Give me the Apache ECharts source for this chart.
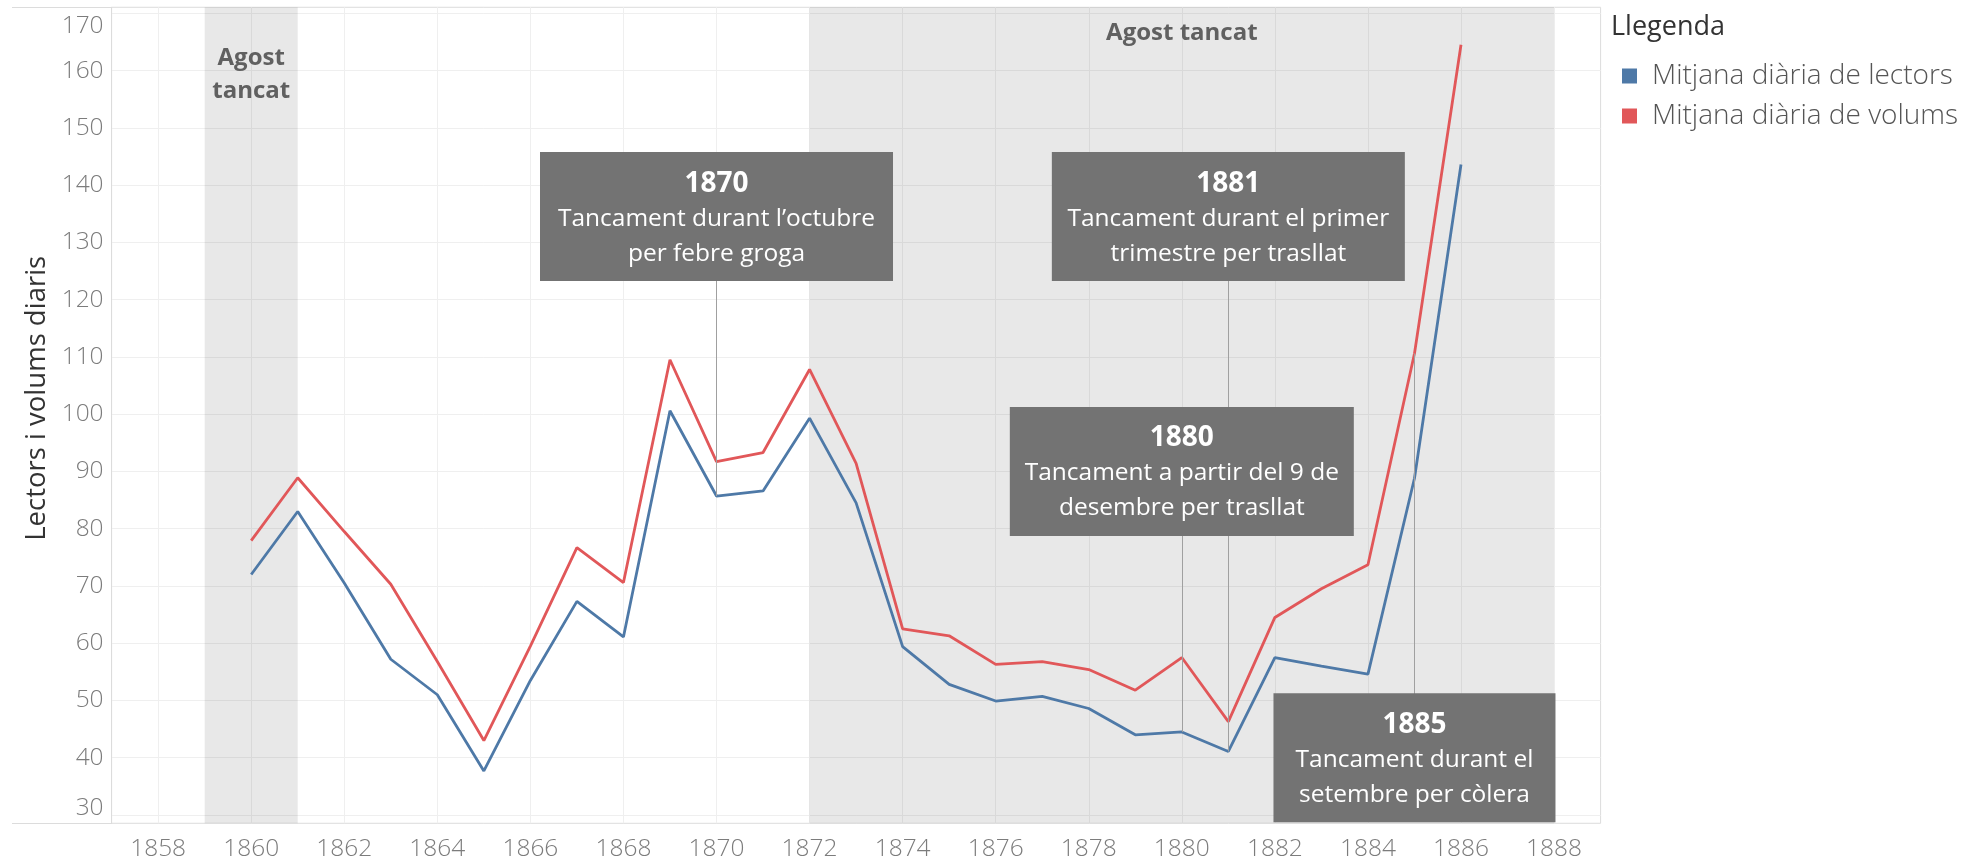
<!DOCTYPE html>
<html><head><meta charset="utf-8">
<script src="https://cdn.jsdelivr.net/npm/echarts@6/dist/echarts.min.js"></script>
<style>html,body{margin:0;padding:0;background:#fff}#c{width:1988px;height:862px}</style>
</head><body><div id="c"></div>
<script>
// ---- data ----
const years   = [1860,1861,1862,1863,1864,1865,1866,1867,1868,1869,1870,1871,1872,1873,1874,1875,1876,1877,1878,1879,1880,1881,1882,1883,1884,1885,1886];
const lectors = [72.0,83.0,70.5,57.2,51.0,37.7,53.5,67.3,61.1,100.6,85.7,86.6,99.3,84.5,59.4,52.8,49.9,50.7,48.6,44.0,44.5,41.1,57.5,56.0,54.6,88.8,143.6];
const volums  = [77.9,88.9,79.5,70.3,56.8,43.0,59.5,76.7,70.6,109.5,91.7,93.3,107.8,91.4,62.5,61.3,56.3,56.8,55.4,51.8,57.5,46.3,64.5,69.5,73.7,110.6,164.5];
const xTicks  = [1858,1860,1862,1864,1866,1868,1870,1872,1874,1876,1878,1880,1882,1884,1886,1888];
const yTicks  = [30,40,50,60,70,80,90,100,110,120,130,140,150,160,170];
const seriesNames = ['Mitjana diària de lectors','Mitjana diària de volums'];
const closedStart = [1859,1872];
const closedEnd   = [1861,1888];
const closedLabels = ['Agost\ntancat','Agost tancat'];
const annotationYears  = [1870,1880,1881,1885];
const annotationTitles = ['1870','1880','1881','1885'];
const annotationLines  = [
  ['Tancament durant l’octubre','per febre groga'],
  ['Tancament a partir del 9 de','desembre per trasllat'],
  ['Tancament durant el primer','trimestre per trasllat'],
  ['Tancament durant el','setembre per còlera']
];
const annotationTarget = ['lectors','lectors','lectors','volums'];

// ---- layout (not data) ----
const annotationBoxY    = [134.5, 90.0, 134.5, 40.0];
const annotationBoxSize = [[353,129],[344,129],[353,129],[282,129]];
const bandLabelDist     = [34, 9];

const FONT = "'Open Sans', sans-serif";
const BLUE = '#4e79a7', RED = '#e15759';
const TICK_COLOR = '#7c7c7c';

const chart = echarts.init(document.getElementById('c'), null, {renderer:'canvas'});

const bandData = closedStart.map((s,i)=>[
  {name: closedLabels[i], xAxis: s, label:{distance: bandLabelDist[i]}},
  {xAxis: closedEnd[i]}
]);

const annotData = annotationYears.map((yr,i)=>({
  value:[yr, annotationBoxY[i]],
  symbolSize: annotationBoxSize[i],
  label:{
    formatter: '{y|'+annotationTitles[i]+'}\n' + annotationLines[i].map(t=>'{t|'+t+'}').join('\n')
  }
}));

const leaderData = annotationYears.map((yr,i)=>{
  const idx = years.indexOf(yr);
  const v = annotationTarget[i]==='lectors' ? lectors[idx] : volums[idx];
  return [{coord:[yr, annotationBoxY[i]]},{coord:[yr, v]}];
});

const option = {
  backgroundColor:'#fff',
  animation:false,
  textStyle:{fontFamily:FONT},
  title:{
    text:'Llegenda', left:1611, top:14, padding:0,
    textStyle:{fontFamily:FONT, fontSize:27, fontWeight:'normal', color:'#333'}
  },
  legend:{
    orient:'vertical', left:1622, top:62, padding:0,
    icon:'rect', itemWidth:15, itemHeight:15, itemGap:12,
    data: seriesNames,
    textStyle:{fontFamily:FONT, fontSize:28, fontWeight:300, color:'#555', padding:[0,0,0,10]}
  },
  grid:{
    left:111.6, right:387.4, top:7.3, bottom:38.7,
    show:true, borderColor:'#dcdcdc', borderWidth:1,
    containLabel:false, outerBoundsMode:'none'
  },
  xAxis:{
    type:'value', min:1857, max:1889,
    axisLine:{show:false},
    axisTick:{show:false, customValues:xTicks},
    axisLabel:{customValues:xTicks, formatter:(v)=>String(v), color:TICK_COLOR, fontSize:24.5, fontWeight:300, fontFamily:FONT, margin:13},
    splitLine:{show:true, lineStyle:{color:'#efefef', width:1}}
  },
  yAxis:{
    type:'value', min:28.55, max:171.05,
    axisLine:{show:true, lineStyle:{color:'#dcdcdc'}},
    axisTick:{show:false, customValues:yTicks},
    axisLabel:{
      customValues:yTicks, color:TICK_COLOR, fontSize:24.5, fontWeight:300, fontFamily:FONT, margin:8,
      formatter:(v)=> v===170 ? '{top|170}' : (v===30 ? '{bot|30}' : String(v)),
      rich:{
        top:{padding:[26,0,0,0], color:TICK_COLOR, fontSize:24.5, fontWeight:300, fontFamily:FONT},
        bot:{padding:[0,0,14,0], color:TICK_COLOR, fontSize:24.5, fontWeight:300, fontFamily:FONT}
      }
    },
    splitLine:{show:true, lineStyle:{color:'#efefef', width:1}},
    name:'Lectors i volums diaris', nameLocation:'middle', nameGap:60, nameRotate:90,
    nameTextStyle:{fontFamily:FONT, fontSize:27.5, color:'#333', padding:[0,0,0,34]}
  },
  graphic:[
    {type:'line', silent:true, shape:{x1:12, y1:7.5, x2:112, y2:7.5}, style:{stroke:'#dcdcdc', lineWidth:1}},
    {type:'line', silent:true, shape:{x1:12, y1:823.5, x2:112, y2:823.5}, style:{stroke:'#dcdcdc', lineWidth:1}}
  ],
  series:[
    {
      name: seriesNames[0], type:'line', symbol:'none', z:3,
      data: years.map((y,i)=>[y, lectors[i]]),
      lineStyle:{color:BLUE, width:2.8}, itemStyle:{color:BLUE},
      markArea:{
        silent:true,
        itemStyle:{color:'rgba(0,0,0,0.09)'},
        label:{show:true, position:'insideTop', color:'#606060', fontWeight:'bold', fontSize:24, fontFamily:FONT, lineHeight:33},
        data: bandData
      }
    },
    {
      name: seriesNames[1], type:'line', symbol:'none', z:3,
      data: years.map((y,i)=>[y, volums[i]]),
      lineStyle:{color:RED, width:2.8}, itemStyle:{color:RED}
    },
    {
      name:'annotations', type:'scatter', symbol:'rect', z:10, silent:true, clip:false,
      itemStyle:{color:'#737373', opacity:1},
      label:{
        show:true, position:'inside', offset:[0,2],
        rich:{
          y:{fontFamily:FONT, fontWeight:'bold', fontSize:28, color:'#fff', lineHeight:35},
          t:{fontFamily:FONT, fontSize:24.5, color:'#fff', lineHeight:35}
        }
      },
      data: annotData,
      markLine:{
        silent:true, symbol:'none', z:4,
        lineStyle:{color:'#a0a0a0', width:1, type:'solid'},
        label:{show:false},
        emphasis:{disabled:true},
        data: leaderData
      }
    }
  ]
};
chart.setOption(option);
</script>
</body></html>
